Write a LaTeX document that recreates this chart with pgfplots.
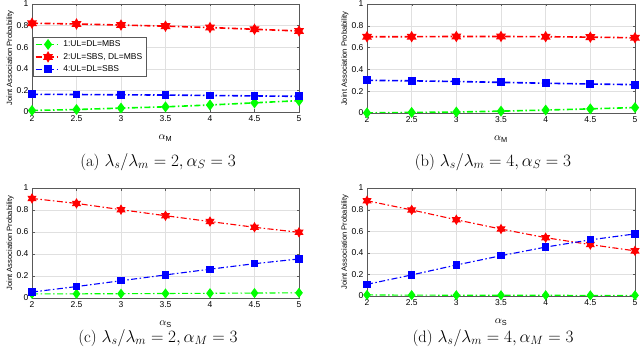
\documentclass[border=0pt]{standalone}
\usepackage{fontspec}
\usepackage{pgfplots}
\usepackage{pgfplotstable}
\pgfplotsset{compat=1.18}
\newfontfamily\msans{Liberation Sans}

% six-pointed filled star, like MATLAB's hexagram
\pgfdeclareplotmark{hexagram}{%
  \pgfpathmoveto{\pgfqpointpolar{90}{\pgfplotmarksize}}%
  \pgfpathlineto{\pgfqpointpolar{210}{\pgfplotmarksize}}%
  \pgfpathlineto{\pgfqpointpolar{330}{\pgfplotmarksize}}%
  \pgfpathclose
  \pgfpathmoveto{\pgfqpointpolar{270}{\pgfplotmarksize}}%
  \pgfpathlineto{\pgfqpointpolar{30}{\pgfplotmarksize}}%
  \pgfpathlineto{\pgfqpointpolar{150}{\pgfplotmarksize}}%
  \pgfpathclose
  \pgfusepathqfillstroke
}

\definecolor{mgreen}{RGB}{0,255,0}
\definecolor{mred}{RGB}{255,0,0}
\definecolor{mblue}{RGB}{0,0,255}

% x  g  r  b
\pgfplotstableread{
x   g     r     b
2   0.014 0.822 0.164
2.5 0.023 0.815 0.162
3   0.036 0.805 0.159
3.5 0.048 0.795 0.157
4   0.065 0.782 0.153
4.5 0.085 0.766 0.149
5   0.105 0.750 0.145
}\tabA
\pgfplotstableread{
x   g     r     b
2   0.001 0.699 0.300
2.5 0.005 0.700 0.295
3   0.009 0.702 0.289
3.5 0.017 0.702 0.281
4   0.027 0.700 0.273
4.5 0.038 0.696 0.266
5   0.050 0.690 0.260
}\tabB
\pgfplotstableread{
x   g     r     b
2   0.038 0.905 0.054
2.5 0.038 0.860 0.104
3   0.039 0.803 0.157
3.5 0.041 0.748 0.210
4   0.043 0.695 0.262
4.5 0.045 0.643 0.312
5   0.047 0.597 0.355
}\tabC
\pgfplotstableread{
x   g     r     b
2   0.010 0.882 0.108
2.5 0.008 0.797 0.195
3   0.007 0.706 0.287
3.5 0.007 0.620 0.373
4   0.007 0.540 0.453
4.5 0.006 0.476 0.520
5   0.006 0.418 0.575
}\tabD

\pgfplotsset{
  jap/.style={
    scale only axis, anchor=north west,
    xmin=2, xmax=5, ymin=0, ymax=1,
    xtick={2,2.5,3,3.5,4,4.5,5},
    ytick={0,0.2,0.4,0.6,0.8,1},
    grid=major, grid style={black!12},
    axis line style={black!65}, tick style={black!65},
    tick align=inside, major tick length=2.5pt,
    tick label style={font=\msans\fontsize{8.5}{10}\selectfont,
      /pgf/number format/assume math mode=true},
    ylabel={Joint Association Probability},
    ylabel style={font=\msans\fontsize{7.6}{9}\selectfont,
      at={(axis description cs:-0.082,0.5)}, anchor=center},
    xlabel style={font=\fontsize{10.5}{12}\selectfont,
      at={(axis description cs:0.5,-0.24)}, anchor=center},
    dd/.style={dash pattern=on 6pt off 2.5pt on 1.5pt off 2.5pt},
    gline/.style={mgreen, dd, mark=diamond*, mark size=4.2pt,
      mark options={solid, fill=mgreen}},
    rline/.style={mred, dd, mark=hexagram, mark size=4.2pt,
      mark options={solid, fill=mred}},
    bline/.style={mblue, dd, mark=square*, mark size=3.1pt,
      mark options={solid, fill=mblue}},
    legend image code/.code={%
      \draw[mark repeat=2, mark phase=2]
        plot coordinates {(0pt,0pt) (12.5pt,0pt) (25pt,0pt)};},
  }
}

\newcommand{\sub}[1]{\textsubscript{\msans #1}}

\begin{document}
\begin{tikzpicture}
\useasboundingbox (0pt,0pt) rectangle (640pt,-353pt);

% (a)
\begin{axis}[jap, at={(32pt,-4pt)}, width=267pt, height=108pt,
    xlabel={$\alpha$\sub{M}},
    every axis plot/.append style={line width=1.6pt},
    legend style={at={(0.004,0.694)}, anchor=north west,
      font=\msans\fontsize{8.5}{10}\selectfont, draw=black!65,
      inner sep=1.5pt, row sep=1pt, cells={anchor=west}}]
\addplot[gline] table[x=x, y=g] {\tabA};
\addlegendentry{1:UL=DL=MBS}
\addplot[rline] table[x=x, y=r] {\tabA};
\addlegendentry{2:UL=SBS, DL=MBS}
\addplot[bline] table[x=x, y=b] {\tabA};
\addlegendentry{4:UL=DL=SBS}
\end{axis}

% (b)
\begin{axis}[jap, at={(367pt,-4pt)}, width=268pt, height=109pt,
    xlabel={$\alpha$\sub{M}},
    every axis plot/.append style={line width=1.6pt}]
\addplot[gline] table[x=x, y=g] {\tabB};
\addplot[rline] table[x=x, y=r] {\tabB};
\addplot[bline] table[x=x, y=b] {\tabB};
\end{axis}

% (c)
\begin{axis}[jap, at={(32pt,-188pt)}, width=267pt, height=110pt,
    xlabel={$\alpha$\sub{S}},
    every axis plot/.append style={line width=1.1pt}]
\addplot[gline] table[x=x, y=g] {\tabC};
\addplot[rline] table[x=x, y=r] {\tabC};
\addplot[bline] table[x=x, y=b] {\tabC};
\end{axis}

% (d)
\begin{axis}[jap, at={(367pt,-188pt)}, width=268pt, height=108pt,
    xlabel={$\alpha$\sub{S}},
    every axis plot/.append style={line width=1.1pt}]
\addplot[gline] table[x=x, y=g] {\tabD};
\addplot[rline] table[x=x, y=r] {\tabD};
\addplot[bline] table[x=x, y=b] {\tabD};
\end{axis}

\begin{scope}[every node/.style={font=\fontsize{16.5}{18}\selectfont}]
\node at (158pt,-162pt) {(a) $\lambda_s/\lambda_m=2, \alpha_S=3$};
\node at (493pt,-162pt) {(b) $\lambda_s/\lambda_m=4, \alpha_S=3$};
\node at (158pt,-338pt) {(c) $\lambda_s/\lambda_m=2, \alpha_M=3$};
\node at (493pt,-338pt) {(d) $\lambda_s/\lambda_m=4, \alpha_M=3$};
\end{scope}
\end{tikzpicture}
\end{document}
